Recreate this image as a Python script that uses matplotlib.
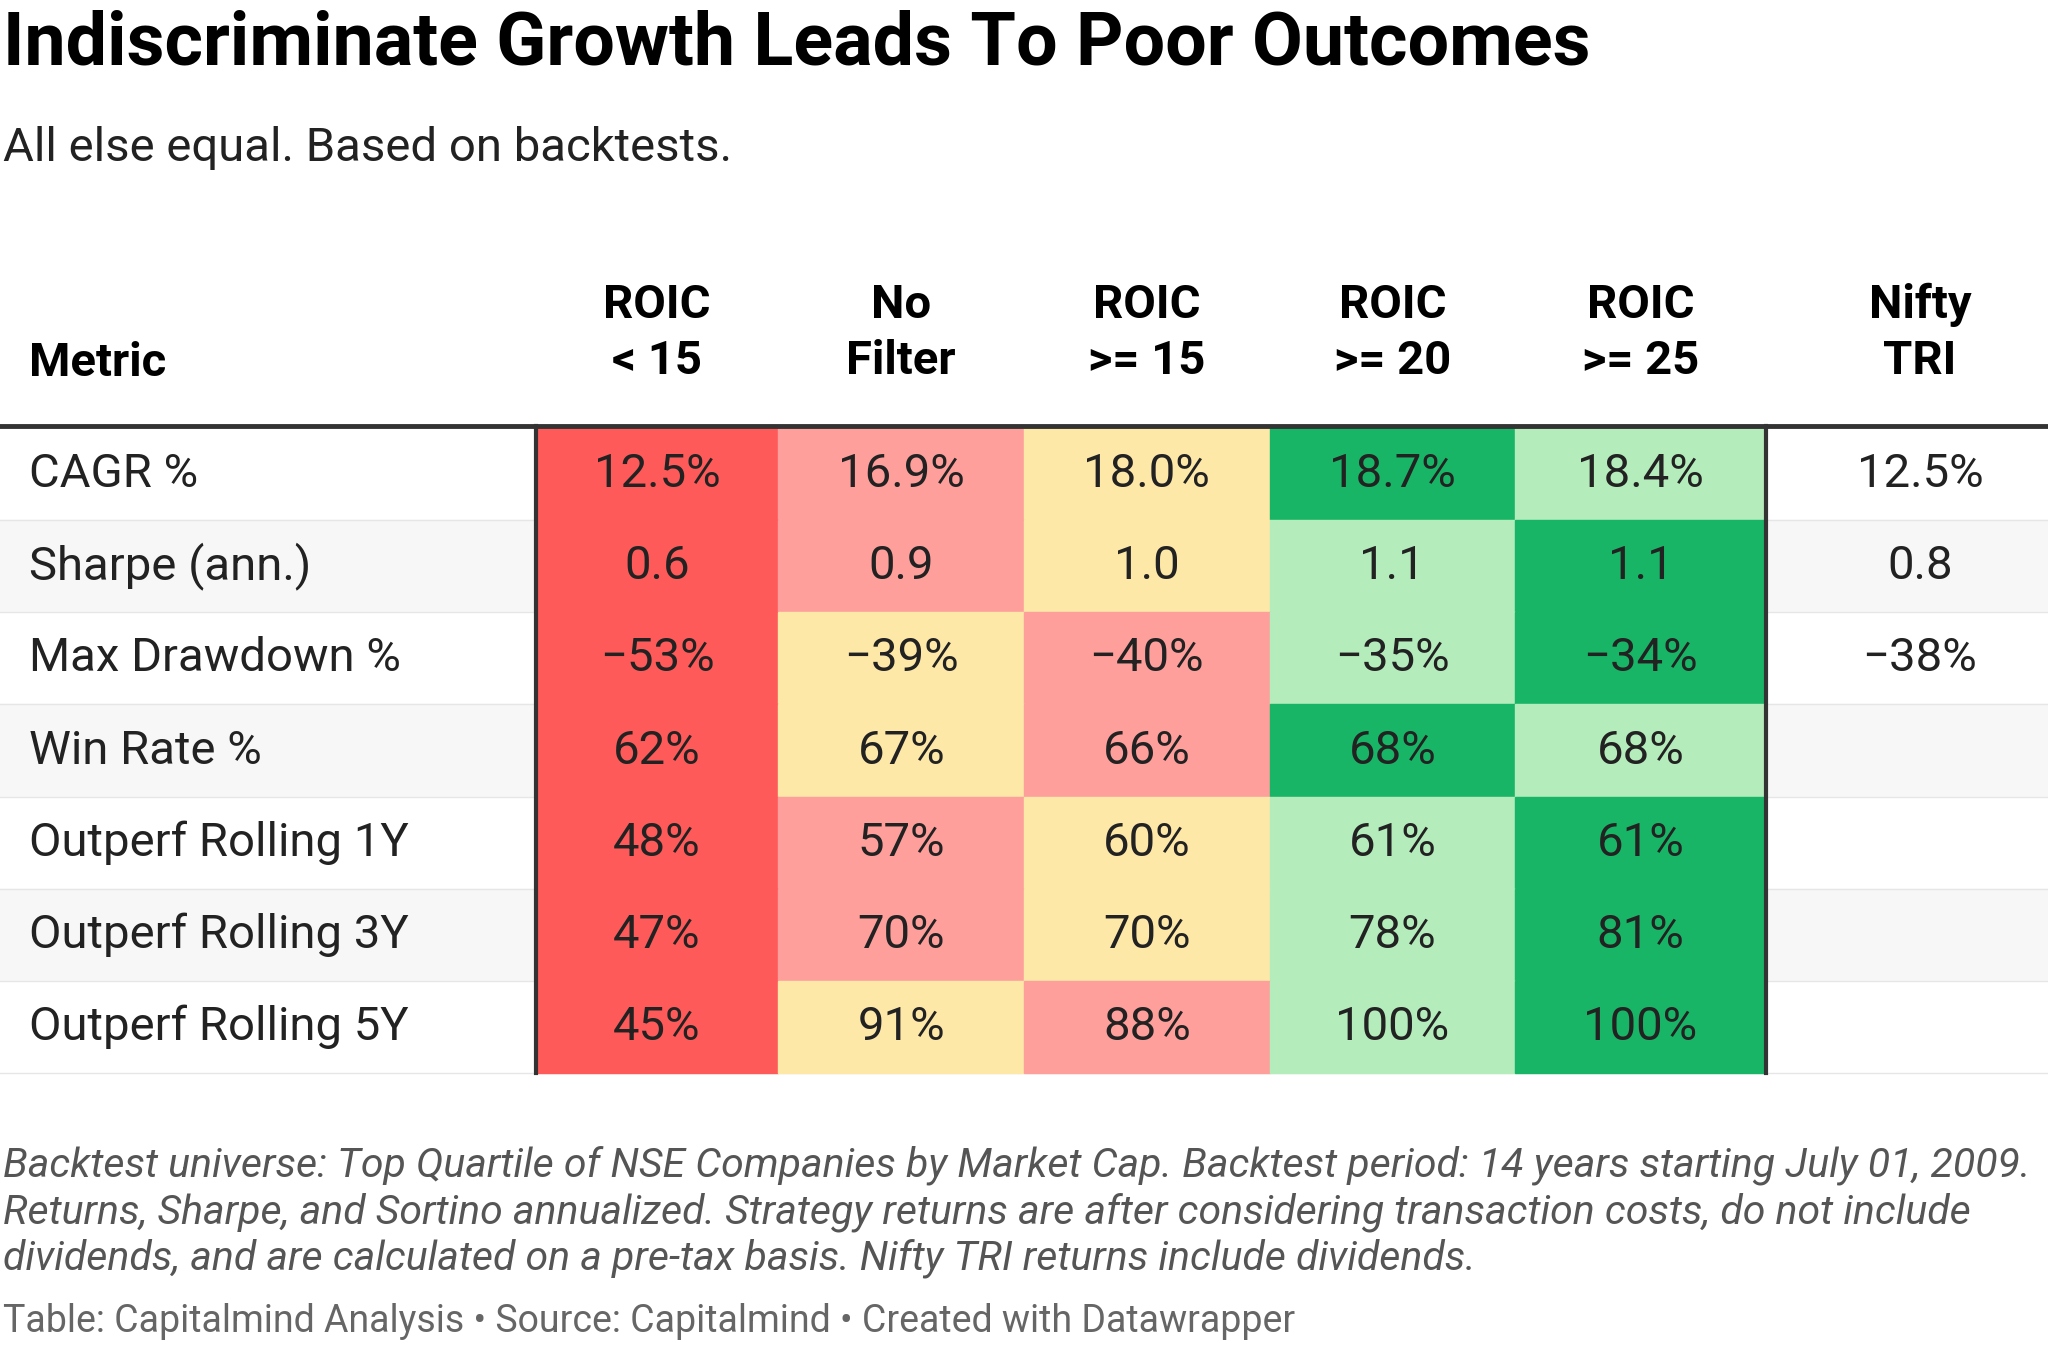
import matplotlib.pyplot as plt
from matplotlib.patches import Rectangle

plt.rcParams['font.family'] = ['Roboto', 'DejaVu Sans']

title = "Indiscriminate Growth Leads To Poor Outcomes"
subtitle = "All else equal. Based on backtests."
headers = ["Metric", "ROIC\n< 15", "No\nFilter", "ROIC\n>= 15", "ROIC\n>= 20", "ROIC\n>= 25", "Nifty\nTRI"]
metrics = ["CAGR %", "Sharpe (ann.)", "Max Drawdown %", "Win Rate %",
           "Outperf Rolling 1Y", "Outperf Rolling 3Y", "Outperf Rolling 5Y"]
values = [
    ["12.5%", "16.9%", "18.0%", "18.7%", "18.4%"],
    ["0.6", "0.9", "1.0", "1.1", "1.1"],
    ["\u221253%", "\u221239%", "\u221240%", "\u221235%", "\u221234%"],
    ["62%", "67%", "66%", "68%", "68%"],
    ["48%", "57%", "60%", "61%", "61%"],
    ["47%", "70%", "70%", "78%", "81%"],
    ["45%", "91%", "88%", "100%", "100%"],
]
# rank within each row (0 = worst, 4 = best), ties as coloured in the source
ranks = [
    [0, 1, 2, 4, 3],
    [0, 1, 2, 3, 4],
    [0, 2, 1, 3, 4],
    [0, 2, 1, 4, 3],
    [0, 1, 2, 3, 4],
    [0, 1, 2, 3, 4],
    [0, 2, 1, 3, 4],
]
nifty = ["12.5%", "0.8", "\u221238%", "", "", "", ""]
footnote = ("Backtest universe: Top Quartile of NSE Companies by Market Cap. Backtest period: 14 years starting July 01, 2009.\n"
            "Returns, Sharpe, and Sortino annualized. Strategy returns are after considering transaction costs, do not include\n"
            "dividends, and are calculated on a pre-tax basis. Nifty TRI returns include dividends.")
source = "Table: Capitalmind Analysis \u2022 Source: Capitalmind \u2022 Created with Datawrapper"

scale = ["#fe5a59", "#fe9f9c", "#fde8a8", "#b5ecbc", "#19b566"]

fig = plt.figure(figsize=(20.48, 13.45), dpi=100)
ax = fig.add_axes([0, 0, 1, 1])
ax.set_xlim(0, 1568)
ax.set_ylim(1030, 0)
ax.axis('off')

ax.text(2, 34, title, fontsize=53, fontweight='bold', va='center', ha='left')
ax.text(2, 113, subtitle, fontsize=34, va='center', ha='left', color='#222222')

col_edges = [0, 410, 596, 784, 972, 1160, 1352, 1568]
top, rh = 328, 70.5
hdr_y = 255

ax.text(22, 278, headers[0], fontsize=34, fontweight='bold', va='center', ha='left')
for j in range(1, 7):
    cx = (col_edges[j] + col_edges[j + 1]) / 2
    if j == 6:
        cx += 10
    ax.text(cx, hdr_y, headers[j], fontsize=34, fontweight='bold', va='center', ha='center', linespacing=1.36)

for i, m in enumerate(metrics):
    y0 = top + i * rh
    bg = '#f7f7f7' if i % 2 == 1 else 'white'
    ax.add_patch(Rectangle((0, y0), 1568, rh, color=bg, zorder=0))
    ax.plot([0, 1568], [y0 + rh, y0 + rh], color='#e6e6e6', lw=1, zorder=1)
    cy = y0 + rh / 2
    ax.text(22, cy, m, fontsize=34, va='center', ha='left', color='#222222', zorder=3)
    for j, v in enumerate(values[i]):
        x0 = col_edges[j + 1]
        ax.add_patch(Rectangle((x0, y0), col_edges[j + 2] - x0, rh, color=scale[ranks[i][j]], zorder=2))
        ax.text(x0 + (col_edges[j + 2] - x0) / 2, cy, v, fontsize=34, va='center', ha='center',
                color='#222222', zorder=3)
    ax.text((col_edges[6] + col_edges[7]) / 2 + 10, cy, nifty[i], fontsize=34, va='center', ha='center',
            color='#222222', zorder=3)

bottom = top + len(metrics) * rh
ax.plot([0, 1568], [top - 2, top - 2], color='#333333', lw=3.5, zorder=4)
for x in (410, 1352):
    ax.plot([x, x], [top - 2, bottom], color='#333333', lw=3, zorder=4)

ax.text(2, 928, footnote, fontsize=29.5, style='italic', va='center', ha='left', color='#555555', linespacing=1.23)
ax.text(2, 1012, source, fontsize=27, va='center', ha='left', color='#666666')

fig.savefig('out.png', dpi=100, facecolor='white')
